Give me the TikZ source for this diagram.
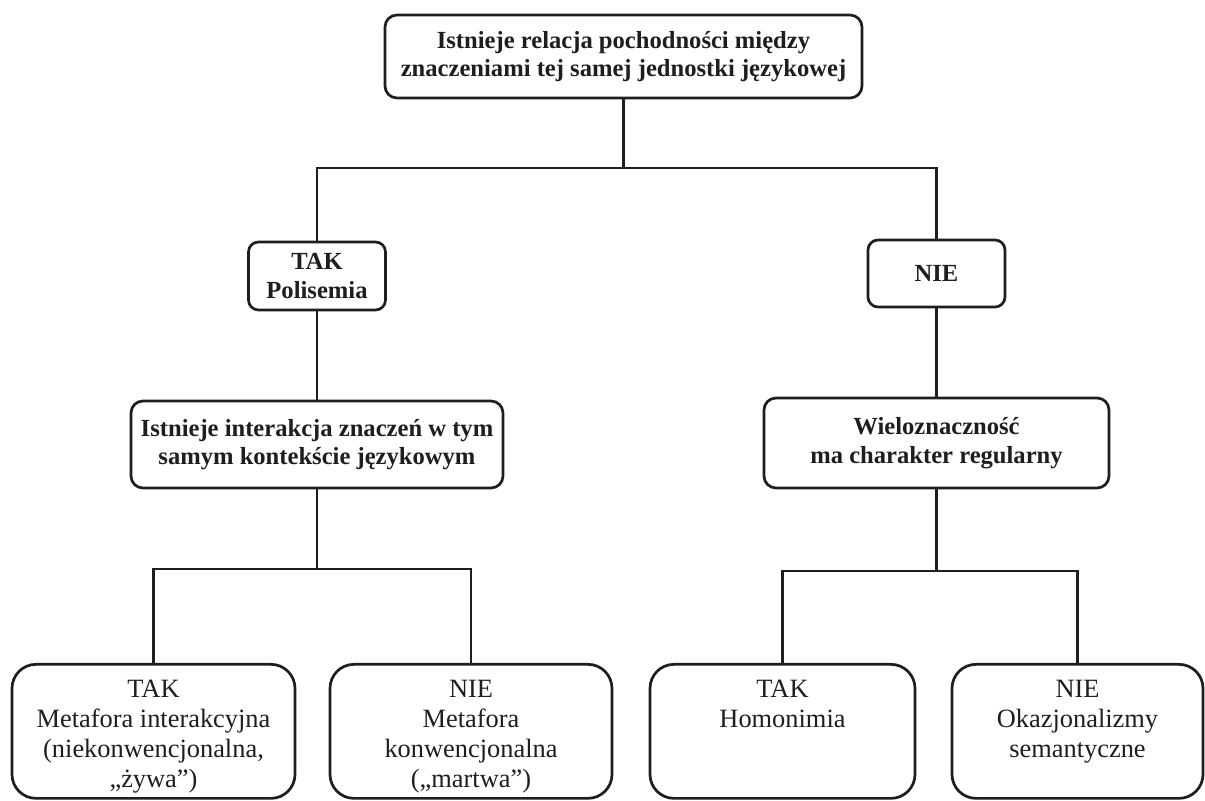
\documentclass[tikz,border=0pt]{standalone}
\usepackage{fontspec}
\setmainfont{Liberation Serif}
\usetikzlibrary{positioning}
\definecolor{ink}{HTML}{1E1E1E}
\newcommand{\leaftext}[2]{\parbox[t][51pt][t]{#1}{\centering #2}}
\tikzset{
  basebox/.style={draw=ink,line width=1.35pt,fill=white,align=center,text=ink,inner sep=0pt},
  qbox/.style={basebox,rounded corners=6pt,font=\fontsize{12.3}{14.2}\selectfont\bfseries},
  ansbox/.style={basebox,rounded corners=5pt,font=\fontsize{12.3}{14.2}\selectfont\bfseries},
  leafbox/.style={basebox,rounded corners=12pt,anchor=north,inner ysep=8pt,font=\fontsize{13.2}{15}\selectfont},
  link/.style={draw=ink,line width=1.35pt}
}

\begin{document}
\begin{tikzpicture}[x=0.5pt,y=-0.5pt]
    \useasboundingbox (0,0) rectangle (1205,801);
    \node[qbox,minimum width=238.5pt,minimum height=41.5pt] (root) at (623.5,56.5)
      {Istnieje relacja pochodności między\\znaczeniami tej samej jednostki językowej};
    \node[ansbox,minimum width=68.5pt,minimum height=34pt] (polisemia) at (317,276) {TAK\\Polisemia};
    \node[ansbox,minimum width=68.5pt,minimum height=33.5pt] (nie) at (936.5,273.5) {NIE};
    \node[qbox,minimum width=186pt,minimum height=43.5pt] (interakcja) at (317,444.5)
      {Istnieje interakcja znaczeń w tym\\samym kontekście językowym};
    \node[qbox,minimum width=172.5pt,minimum height=45pt] (wielo) at (936.5,443)
      {Wieloznaczność\\ma charakter regularny};

    \node[leafbox] (metint) at (153.5,663)
      {\leaftext{141.5pt}{TAK\\Metafora interakcyjna\\(niekonwencjonalna,\\„żywa”)}};
    \node[leafbox] (metkonw) at (471,663)
      {\leaftext{141pt}{NIE\\Metafora\\konwencjonalna\\(„martwa”)}};
    \node[leafbox] (homonimia) at (782.5,663) {\leaftext{132.5pt}{TAK\\Homonimia}};
    \node[leafbox] (okazj) at (1077.5,663) {\leaftext{125.5pt}{NIE\\Okazjonalizmy\\semantyczne}};

    \coordinate (split) at (623.5,168);
    \draw[link] (root.south) -- (split);
    \draw[link] (polisemia.north) |- (split) -| (nie.north);
    \draw[link] (polisemia.south) -- (interakcja.north);
    \draw[link] (nie.south) -- (wielo.north);

    \coordinate (splitL) at (317,569);
    \draw[link] (interakcja.south) -- (splitL);
    \draw[link] (metint.north) |- (splitL) -| (metkonw.north);
    \coordinate (splitR) at (936.5,571);
    \draw[link] (wielo.south) -- (splitR);
    \draw[link] (homonimia.north) |- (splitR) -| (okazj.north);
\end{tikzpicture}
\end{document}
